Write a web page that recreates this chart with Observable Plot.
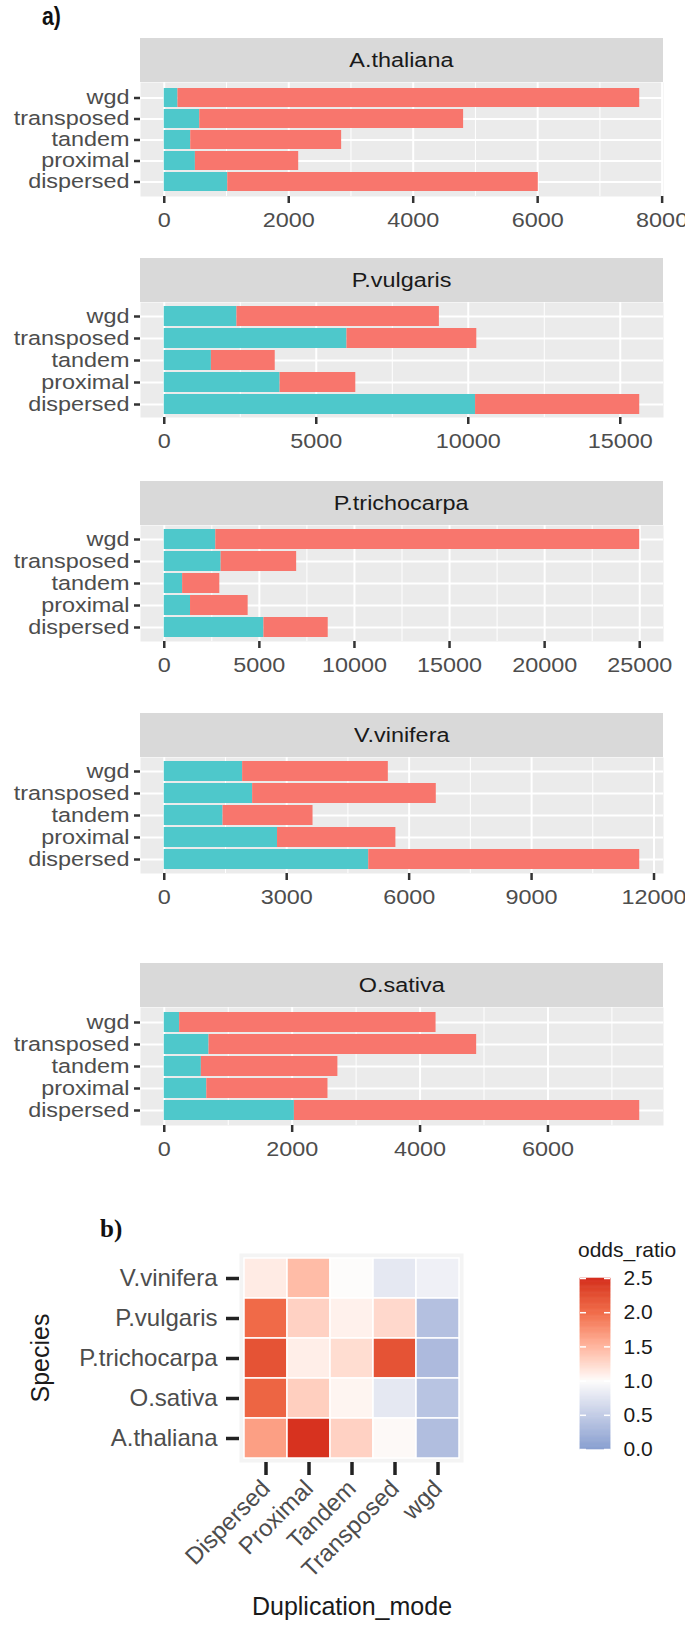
<!DOCTYPE html>
<html><head><meta charset="utf-8">
<script src="https://cdn.jsdelivr.net/npm/d3@7"></script>
<script src="https://cdn.jsdelivr.net/npm/@observablehq/plot@0.6"></script>
<style>
body{margin:0;background:#fff;font-family:"Liberation Sans",Arial,Helvetica,sans-serif;}
#root{position:relative;width:685px;height:1633px;overflow:hidden;background:#fff;}
.abs{position:absolute;}
.strip{position:absolute;background:#d9d9d9;color:#1a1a1a;font-size:19.5px;display:flex;align-items:center;justify-content:center;}
.strip span{display:inline-block;transform:scaleX(1.2);}
svg{overflow:visible;}
</style></head><body><div id="root"></div>
<script>
// ---------- DATA ----------
const modes = ["wgd", "transposed", "tandem", "proximal", "dispersed"];
const species = ["A.thaliana", "P.vulgaris", "P.trichocarpa", "V.vinifera", "O.sativa"];
// lower (teal) segment from 0 and upper (salmon) segment stacked after it, per mode in the order above
const lowerAth = [220, 570, 425, 500, 1020];
const upperAth = [7420, 4240, 2425, 1660, 4990];
const lowerPvu = [2390, 6010, 1550, 3810, 10240];
const upperPvu = [6660, 4270, 2100, 2490, 5400];
const lowerPtr = [2710, 2990, 965, 1380, 5240];
const upperPtr = [22290, 3970, 1955, 3030, 3380];
const lowerVvi = [1920, 2165, 1440, 2775, 5010];
const upperVvi = [3570, 4500, 2205, 2900, 6640];
const lowerOsa = [240, 700, 580, 665, 2035];
const upperOsa = [4010, 4185, 2135, 1895, 5400];
const ticksAth = [0, 2000, 4000, 6000, 8000];
const ticksPvu = [0, 5000, 10000, 15000];
const ticksPtr = [0, 5000, 10000, 15000, 20000, 25000];
const ticksVvi = [0, 3000, 6000, 9000, 12000];
const ticksOsa = [0, 2000, 4000, 6000];

// heatmap (panel b)
const dupModes = ["Dispersed", "Proximal", "Tandem", "Transposed", "wgd"];
const heatSpecies = ["V.vinifera", "P.vulgaris", "P.trichocarpa", "O.sativa", "A.thaliana"]; // top to bottom
const oddsVvi = [1.12, 1.45, 1.0, 0.8, 0.88];
const oddsPvu = [2.0, 1.3, 1.08, 1.25, 0.38];
const oddsPtr = [2.2, 1.1, 1.22, 2.2, 0.32];
const oddsOsa = [2.05, 1.32, 1.05, 0.8, 0.42];
const oddsAth = [1.65, 2.45, 1.3, 1.02, 0.36];
const legendBreaks = [0, 0.5, 1.0, 1.5, 2.0, 2.5];

// ---------- STYLE / LAYOUT ----------
const TEAL = "#4ec8cb", SALMON = "#f8766d";
const FONT = '"Liberation Sans", Arial, Helvetica, sans-serif';
const SX = 1.2; // horizontal stretch of the source figure's text
const facets = [
  {name: species[0], lower: lowerAth, upper: upperAth, ticks: ticksAth, top: 38, h: 114},
  {name: species[1], lower: lowerPvu, upper: upperPvu, ticks: ticksPvu, top: 258, h: 115},
  {name: species[2], lower: lowerPtr, upper: upperPtr, ticks: ticksPtr, top: 481, h: 116},
  {name: species[3], lower: lowerVvi, upper: upperVvi, ticks: ticksVvi, top: 713, h: 116},
  {name: species[4], lower: lowerOsa, upper: upperOsa, ticks: ticksOsa, top: 963, h: 118}
];
const PL = 140, PR = 663, STRIP_H = 44;

const root = document.getElementById("root");
function addDiv(css, text) {
  const d = document.createElement("div");
  d.className = "abs";
  d.style.cssText = css;
  if (text != null) d.textContent = text;
  root.appendChild(d);
  return d;
}
function stretchTexts(svg, sx) {
  svg.querySelectorAll("text").forEach(t => {
    const tr = t.getAttribute("transform");
    if (tr && tr.startsWith("translate")) t.setAttribute("transform", tr + ` scale(${sx},1)`);
  });
}

addDiv("left:42px;top:2px;font:bold 25px 'Liberation Sans',Arial,sans-serif;color:#111;transform:scaleX(0.85);transform-origin:0 0;", "a)");

for (const f of facets) {
  const strip = document.createElement("div");
  strip.className = "strip";
  strip.style.left = PL + "px";
  strip.style.top = f.top + "px";
  strip.style.width = (PR - PL) + "px";
  strip.style.height = STRIP_H + "px";
  const sp = document.createElement("span");
  sp.textContent = f.name;
  strip.appendChild(sp);
  root.appendChild(strip);

  const rows = [];
  modes.forEach((m, i) => {
    rows.push({mode: m, part: "lower", value: f.lower[i]});
    rows.push({mode: m, part: "upper", value: f.upper[i]});
  });
  const maxTotal = d3.max(modes, (m, i) => f.lower[i] + f.upper[i]);
  const dom = [-0.05 * maxTotal, 1.05 * maxTotal];
  const t = f.ticks, step = t[1] - t[0];
  const minor = [];
  if (t[0] - step / 2 >= dom[0]) minor.push(t[0] - step / 2);
  for (let i = 0; i < t.length - 1; i++) minor.push((t[i] + t[i + 1]) / 2);
  if (t[t.length - 1] + step / 2 <= dom[1]) minor.push(t[t.length - 1] + step / 2);

  const plot = Plot.plot({
    width: 685,
    height: f.h + 40,
    marginLeft: PL,
    marginRight: 685 - PR,
    marginTop: 0,
    marginBottom: 40,
    style: {fontFamily: FONT, fontSize: "19.5px", background: "transparent", overflow: "visible"},
    x: {domain: dom},
    y: {domain: modes, paddingInner: 0.1, paddingOuter: 0.15},
    color: {domain: ["lower", "upper"], range: [TEAL, SALMON]},
    marks: [
      Plot.frame({fill: "#ebebeb", stroke: "none"}),
      Plot.gridX(minor, {stroke: "#fff", strokeOpacity: 1, strokeWidth: 1}),
      Plot.gridX(t, {stroke: "#fff", strokeOpacity: 1, strokeWidth: 2}),
      Plot.gridY(modes, {stroke: "#fff", strokeOpacity: 1, strokeWidth: 2}),
      Plot.barX(rows, Plot.stackX({y: "mode", x: "value", fill: "part", order: null})),
      Plot.axisX(t, {tickSize: 7, tickPadding: 10, stroke: "#333", strokeWidth: 2.5, fill: "#4d4d4d", fontSize: 19.5, tickFormat: d => String(d), label: null}),
      Plot.axisY({tickSize: 6, tickPadding: 5, stroke: "#333", strokeWidth: 2.5, fill: "#4d4d4d", fontSize: 19.5, label: null})
    ]
  });
  stretchTexts(plot, SX);
  plot.style.position = "absolute";
  plot.style.left = "0px";
  plot.style.top = (f.top + STRIP_H) + "px";
  root.appendChild(plot);
}

// ---------- PANEL b ----------
addDiv("left:100px;top:1215px;font:bold 25px 'Liberation Serif','Times New Roman',serif;color:#111;", "b)");

const heatRows = [];
const oddsBySpecies = [oddsVvi, oddsPvu, oddsPtr, oddsOsa, oddsAth];
heatSpecies.forEach((s, i) => dupModes.forEach((m, j) => heatRows.push({species: s, mode: m, odds: oddsBySpecies[i][j]})));

const colorOpts = {type: "linear", domain: [0, 1, 2, 2.5], range: ["#869dcf", "#fdfcfb", "#f06a48", "#d42a1a"], interpolate: "lab"};

const HT = 1200;
const FT = 1253, FB = 1462, FL = 239, FR = 463;
const heat = Plot.plot({
  width: 685,
  height: 433,
  marginLeft: FL,
  marginRight: 685 - FR,
  marginTop: FT - HT,
  marginBottom: HT + 433 - FB,
  style: {fontFamily: FONT, fontSize: "24px", background: "transparent", overflow: "visible"},
  x: {domain: dupModes, paddingInner: 0, paddingOuter: 0.1},
  y: {domain: heatSpecies, paddingInner: 0, paddingOuter: 0.1},
  color: colorOpts,
  marks: [
    Plot.frame({fill: "#f4f4f4", stroke: "none"}),
    Plot.cell(heatRows, {x: "mode", y: "species", fill: "odds", stroke: "#fff", strokeWidth: 1.5, inset: 0}),
    Plot.axisY({tickSize: 13, tickPadding: 9, stroke: "#222", strokeWidth: 3.5, fill: "#4d4d4d", fontSize: 24, label: null}),
    Plot.axisX({tickSize: 13, tickPadding: 9, tickRotate: -45, stroke: "#222", strokeWidth: 3.5, fill: "#4d4d4d", fontSize: 24, label: null})
  ]
});
heat.style.position = "absolute";
heat.style.left = "0px";
heat.style.top = HT + "px";
root.appendChild(heat);

addDiv("left:40px;top:1358px;transform:translate(-50%,-50%) rotate(-90deg);font-size:25px;color:#1a1a1a;white-space:nowrap;", "Species");
addDiv("left:352px;top:1606px;transform:translate(-50%,-50%);font-size:25px;color:#1a1a1a;white-space:nowrap;", "Duplication_mode");
addDiv("left:578px;top:1239px;font-size:21px;color:#1a1a1a;white-space:nowrap;line-height:1;", "odds_ratio");

// colorbar legend
const gradN = 200;
const grad = d3.range(gradN).map(i => ({v0: 2.5 * i / gradN, v1: 2.5 * (i + 1) / gradN}));
const CB_TOP = 1278, CB_BOT = 1449, CB_L = 580, CB_W = 30;
const cbar = Plot.plot({
  width: CB_W + 80,
  height: (CB_BOT - CB_TOP) + 40,
  marginLeft: 0,
  marginRight: 80,
  marginTop: 20,
  marginBottom: 20,
  style: {fontFamily: FONT, fontSize: "21px", background: "transparent", overflow: "visible"},
  x: {domain: [0, 1], axis: null},
  y: {domain: [0, 2.5]},
  color: colorOpts,
  marks: [
    Plot.rect(grad, {y1: "v0", y2: "v1", fill: d => (d.v0 + d.v1) / 2, stroke: d => (d.v0 + d.v1) / 2, strokeWidth: 0.6}),
    Plot.ruleY(legendBreaks, {x1: 0, x2: 0.2, stroke: "#fff", strokeWidth: 1.5}),
    Plot.ruleY(legendBreaks, {x1: 0.8, x2: 1, stroke: "#fff", strokeWidth: 1.5}),
    Plot.axisY(legendBreaks, {anchor: "right", tickSize: 0, tickPadding: 13, fill: "#1a1a1a", fontSize: 21, tickFormat: d3.format(".1f"), label: null})
  ]
});
cbar.style.position = "absolute";
cbar.style.left = CB_L + "px";
cbar.style.top = (CB_TOP - 20) + "px";
root.appendChild(cbar);
</script></body></html>
